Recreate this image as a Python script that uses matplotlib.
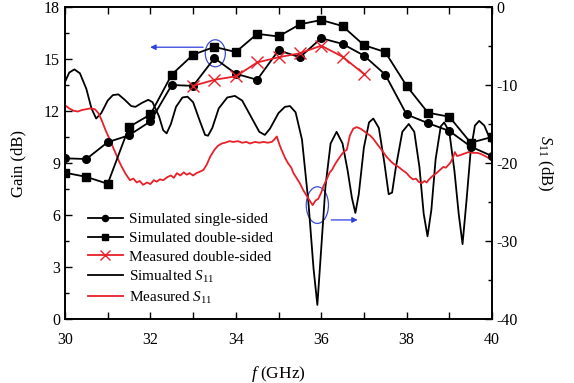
import matplotlib
matplotlib.use("Agg")
import matplotlib.pyplot as plt
from matplotlib.patches import Ellipse

plt.rcParams['font.family'] = ['Liberation Serif', 'DejaVu Serif']
plt.rcParams['mathtext.fontset'] = 'custom'
plt.rcParams['mathtext.rm'] = 'Liberation Serif'
plt.rcParams['mathtext.it'] = 'Liberation Serif:italic'

# ---- data ----
f_gain = [30.0, 30.5, 31.0, 31.5, 32.0, 32.5, 33.0, 33.5, 34.0, 34.5, 35.0,
          35.5, 36.0, 36.5, 37.0, 37.5, 38.0, 38.5, 39.0, 39.5, 40.0]
sim_single = [9.27, 9.23, 10.2, 10.6, 11.4, 13.5, 13.45, 15.05, 14.15, 13.8, 15.5,
              15.1, 16.2, 15.87, 15.2, 14.1, 11.8, 11.3, 10.85, 9.95, 9.4]
sim_double = [8.44, 8.2, 7.8, 11.08, 11.8, 14.1, 15.25, 15.7, 15.4, 16.45, 16.3,
              17.0, 17.25, 16.9, 15.8, 15.4, 13.45, 11.9, 11.67, 10.17, 10.5]
f_meas = [33.0, 33.5, 34.0, 34.5, 35.0, 35.5, 36.0, 36.5, 37.0]
meas_double = [13.45, 13.8, 14.0, 14.8, 15.1, 15.33, 15.77, 15.13, 14.14]

f_s11_sim = [30.00, 30.10, 30.22, 30.35, 30.50, 30.62, 30.73, 30.85, 31.00, 31.12,
             31.25, 31.40, 31.55, 31.65, 31.80, 31.95, 32.05, 32.20, 32.30, 32.38,
             32.48, 32.60, 32.75, 32.87, 33.00, 33.15, 33.28, 33.35, 33.45, 33.60,
             33.80, 33.98, 34.15, 34.35, 34.55, 34.68, 34.80, 35.00, 35.15, 35.27,
             35.40, 35.55, 35.70, 35.82, 35.91, 36.00, 36.10, 36.22, 36.36, 36.50,
             36.62, 36.72, 36.80, 36.88, 37.00, 37.12, 37.22, 37.35, 37.48, 37.58,
             37.66, 37.75, 37.90, 38.05, 38.18, 38.30, 38.40, 38.49, 38.58, 38.68,
             38.80, 38.88, 39.00, 39.12, 39.22, 39.31, 39.40, 39.50, 39.60, 39.70,
             39.82, 39.92, 40.00]
s11_sim = [-9.6, -8.4, -8.0, -8.5, -10.5, -13.0, -14.3, -13.6, -12.0, -11.3,
           -11.2, -11.9, -12.7, -12.8, -12.3, -11.9, -12.2, -14.0, -15.8, -16.2,
           -15.0, -12.8, -11.6, -11.5, -12.2, -14.5, -16.4, -16.5, -15.5, -13.0,
           -11.6, -11.4, -12.0, -14.0, -16.0, -16.4, -15.6, -13.6, -12.8, -12.7,
           -13.5, -17.0, -25.0, -33.5, -38.2, -31.0, -23.0, -17.5, -16.0, -17.5,
           -21.0, -24.5, -26.4, -24.0, -18.0, -14.8, -14.3, -15.5, -20.0, -24.0,
           -23.8, -20.5, -16.0, -15.0, -16.0, -20.5, -26.5, -29.4, -26.0, -19.5,
           -15.3, -14.8, -16.0, -21.0, -26.5, -30.4, -25.0, -18.5, -15.2, -14.6,
           -15.2, -16.5, -17.5]

f_s11_meas = [30.00, 30.10, 30.20, 30.30, 30.40, 30.50, 30.60, 30.70, 30.78, 30.85,
              30.95, 31.05, 31.15, 31.25, 31.33, 31.42, 31.52, 31.60, 31.68, 31.75,
              31.83, 31.92, 32.00, 32.08, 32.15, 32.22, 32.30, 32.40, 32.48, 32.55,
              32.62, 32.70, 32.78, 32.85, 32.92, 33.00, 33.08, 33.16, 33.24, 33.32,
              33.40, 33.50, 33.58, 33.67, 33.75, 33.85, 33.94, 34.05, 34.15, 34.25,
              34.33, 34.45, 34.55, 34.65, 34.75, 34.84, 34.90, 34.96, 35.02, 35.07,
              35.15, 35.22, 35.30, 35.35, 35.42, 35.50, 35.58, 35.66, 35.74, 35.80,
              35.87, 35.93, 36.00, 36.05, 36.12, 36.20, 36.25, 36.33, 36.44, 36.52,
              36.60, 36.67, 36.75, 36.83, 36.92, 37.00, 37.07, 37.15, 37.22, 37.30,
              37.40, 37.53, 37.65, 37.72, 37.81, 37.90, 38.00, 38.08, 38.15, 38.22,
              38.28, 38.35, 38.42, 38.47, 38.51, 38.60, 38.70, 38.78, 38.86, 38.92,
              39.02, 39.08, 39.13, 39.18, 39.25, 39.35, 39.45, 39.55, 39.65, 39.72,
              39.80, 39.90, 40.00]
s11_meas = [-12.6, -13.0, -13.3, -13.4, -13.2, -13.1, -13.0, -13.1, -13.6, -14.4,
            -15.8, -17.0, -18.3, -19.6, -20.5, -21.4, -22.2, -22.0, -22.5, -22.3,
            -22.8, -22.5, -22.7, -22.2, -22.4, -22.1, -22.2, -21.8, -21.6, -21.9,
            -21.3, -21.6, -21.2, -21.5, -21.3, -21.6, -21.3, -21.1, -20.9, -20.2,
            -19.2, -18.3, -17.8, -17.5, -17.4, -17.2, -17.3, -17.2, -17.4, -17.3,
            -17.5, -17.3, -17.4, -17.3, -17.4, -17.3, -17.0, -16.6, -17.6, -18.3,
            -19.3, -20.0, -20.6, -21.3, -21.9, -22.6, -23.5, -24.2, -24.9, -25.4,
            -24.8, -24.6, -23.8, -23.0, -22.2, -21.2, -20.9, -20.1, -19.2, -18.6,
            -18.3, -16.5, -15.6, -15.4, -15.6, -15.9, -16.2, -16.5, -16.9, -17.5,
            -18.2, -19.2, -19.9, -20.2, -20.5, -20.9, -21.3, -21.8, -22.1, -22.0,
            -22.4, -22.6, -22.3, -22.5, -22.2, -21.7, -21.3, -20.9, -20.5, -20.6,
            -20.0, -19.4, -18.6, -19.1, -19.0, -18.8, -18.6, -18.7, -18.7, -18.8,
            -19.0, -19.3, -19.7]

x_ticks = [30, 32, 34, 36, 38, 40]
gain_ticks = [0, 3, 6, 9, 12, 15, 18]
s11_ticks = [-40, -30, -20, -10, 0]
s11_ticklabels = ['-40', '-30', '-20', '-10', '0']

labels = ['Simulated single-sided', 'Simulated double-sided', 'Measured double-sided',
          r'Simualted $S_{\mathrm{11}}$', r'Measured $S_{\mathrm{11}}$']

# ---- figure ----
fig = plt.figure(figsize=(5.74, 3.83), dpi=100)
ax = fig.add_axes([65/574, 1 - 319/383, (492-65)/574, (319-7)/383])
ax2 = ax.twinx()
ax.set_zorder(ax2.get_zorder() + 1)
ax.patch.set_visible(False)

lw = 1.3
h1, = ax.plot(f_gain, sim_single, '-o', color='black', lw=lw, ms=5.5)
h2, = ax.plot(f_gain, sim_double, '-s', color='black', lw=lw, ms=5.5)
h3, = ax.plot(f_meas, meas_double, '-x', color='#e8202a', lw=lw, ms=9, mew=1.0)
h4, = ax2.plot(f_s11_sim, s11_sim, '-', color='black', lw=lw)
h5, = ax2.plot(f_s11_meas, s11_meas, '-', color='#e8202a', lw=lw)

ax.set_xlim(30, 40)
ax.set_ylim(0, 18)
ax2.set_ylim(-40, 0)

ax.set_xticks(x_ticks)
ax.set_xticks([31, 33, 35, 37, 39], minor=True)
ax.set_yticks(gain_ticks)
ax.set_yticks([1.5, 4.5, 7.5, 10.5, 13.5, 16.5], minor=True)
ax2.set_yticks(s11_ticks)
ax2.set_yticklabels(s11_ticklabels)
ax2.set_yticks([-35, -25, -15, -5], minor=True)

ax.tick_params(axis='both', which='major', direction='in', length=5, width=1.0,
               labelsize=11.5, top=True)
ax.tick_params(axis='both', which='minor', direction='in', length=3, width=1.0, top=True)
ax.tick_params(axis='x', which='minor', top=True, length=5)
ax2.tick_params(axis='y', which='major', direction='in', length=5, width=1.0, labelsize=11.5)
ax2.tick_params(axis='y', which='minor', direction='in', length=3, width=1.0)
ax.tick_params(axis='x', pad=9)

for a in (ax, ax2):
    for s in a.spines.values():
        s.set_linewidth(1.2)

ax.set_ylabel('Gain (dB)', fontsize=12, labelpad=13)
ax.set_xlabel(r'$f$ (GHz)', fontsize=12.5, labelpad=12)
ax2.set_ylabel(r'$S_{\mathrm{11}}$ (dB)', fontsize=12, rotation=270, labelpad=26)

# annotations
ax.add_patch(Ellipse((33.52, 15.33), 0.47, 1.56, fill=False, ec='#3a4fd0', lw=0.9))
ax.annotate('', xy=(31.93, 15.68), xytext=(33.30, 15.68),
            arrowprops=dict(arrowstyle='-|>', color='#2f3fe0', lw=0.9, mutation_scale=8))
ax2.add_patch(Ellipse((35.91, -25.4), 0.52, 4.7, fill=False, ec='#3a4fd0', lw=0.9))
ax2.annotate('', xy=(36.92, -27.3), xytext=(36.17, -27.3),
             arrowprops=dict(arrowstyle='-|>', color='#2f3fe0', lw=0.9, mutation_scale=8))

ax.legend([h1, h2, h3, h4, h5], labels, loc='upper left',
          bbox_to_anchor=(0.035, 0.365), frameon=False, fontsize=11,
          handlelength=2.3, handletextpad=0.4, labelspacing=0.32, borderpad=0,
          markerscale=0.8)

fig.savefig('out.png', dpi=100)
